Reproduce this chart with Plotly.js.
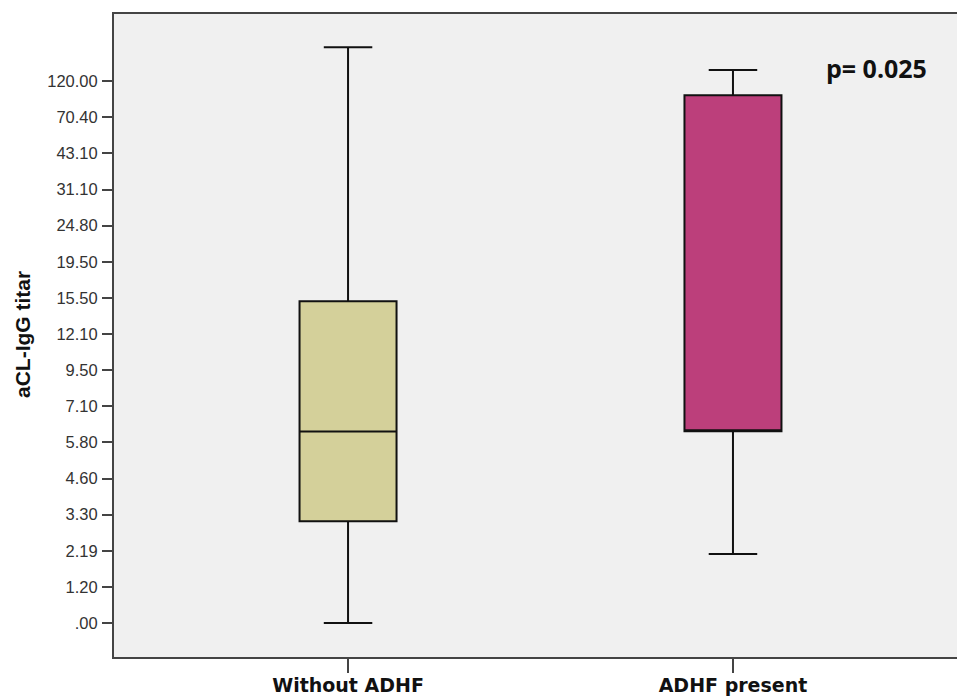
<!DOCTYPE html>
<html>
<head>
<meta charset="utf-8">
<script src="https://cdn.plot.ly/plotly-3.0.1.min.js"></script>
<style>html,body{margin:0;padding:0;background:#fff;}#chart{width:957px;height:697px;}</style>
</head>
<body>
<div id="chart"></div>
<script>
// Ordinal tick labels of the SPSS axis (evenly spaced ranks)
const tickLabels = [".00","1.20","2.19","3.30","4.60","5.80","7.10","9.50","12.10","15.50","19.50","24.80","31.10","43.10","70.40","120.00"];
const groups = ["Without ADHF", "ADHF present"];
// Box statistics expressed in rank positions on the ordinal axis
const lowerWhisker = [0.00, 1.91];
const q1Values = [2.82, 5.31];
const medianValues = [5.30, 5.31];
const q3Values = [8.91, 14.61];
const upperWhisker = [15.94, 15.31];
const boxColors = ["#D4D09A", "#BC3F7B"];
const pText = "p= 0.025";

const tickPos = tickLabels.map((_, i) => i);

const traces = groups.map((g, i) => ({
  type: "box",
  x: [g],
  q1: [q1Values[i]],
  median: [medianValues[i]],
  q3: [q3Values[i]],
  lowerfence: [lowerWhisker[i]],
  upperfence: [upperWhisker[i]],
  fillcolor: boxColors[i],
  line: {color: "#111", width: 2},
  width: 0.252,
  whiskerwidth: 0.5,
  boxpoints: false,
  hoverinfo: "skip",
  showlegend: false
}));

const layout = {
  width: 957, height: 697,
  margin: {l: 114, r: 0, t: 14, b: 40},
  paper_bgcolor: "#ffffff",
  plot_bgcolor: "#F0F0F0",
  showlegend: false,
  xaxis: {
    type: "category",
    range: [-0.608, 1.582],
    showgrid: false, zeroline: false,
    showline: true, mirror: true, linecolor: "#444", linewidth: 2,
    ticks: "outside", ticklen: 14, tickwidth: 2, tickcolor: "#444",
    ticklabelstandoff: -4,
    tickfont: {family: "DejaVu Sans", size: 19, color: "#111", weight: "bold"}
  },
  yaxis: {
    range: [-0.94, 16.86],
    tickvals: tickPos, ticktext: tickLabels,
    showgrid: false, zeroline: false,
    showline: true, linecolor: "#444", linewidth: 2,
    ticks: "outside", ticklen: 10, tickwidth: 2, tickcolor: "#444",
    ticklabelstandoff: 1,
    tickfont: {family: "Liberation Sans, Arial", size: 16.5, color: "#333"}
  },
  annotations: [
    {text: "<b>aCL-IgG titar</b>", textangle: -90, xref: "paper", yref: "paper",
     x: (23 - 114) / 843, y: (657 - 335) / 643, xanchor: "center", yanchor: "middle",
     showarrow: false, font: {family: "Liberation Sans, Arial", size: 21, color: "#111"}},
    {text: "<b>" + pText + "</b>", xref: "paper", yref: "paper",
     x: (876 - 114) / 843, y: (657 - 68) / 643, xanchor: "center", yanchor: "middle",
     showarrow: false, font: {family: "Open Sans", size: 25, color: "#111"}}
  ]
};

Plotly.newPlot("chart", traces, layout, {displayModeBar: false, staticPlot: true});
</script>
</body>
</html>
